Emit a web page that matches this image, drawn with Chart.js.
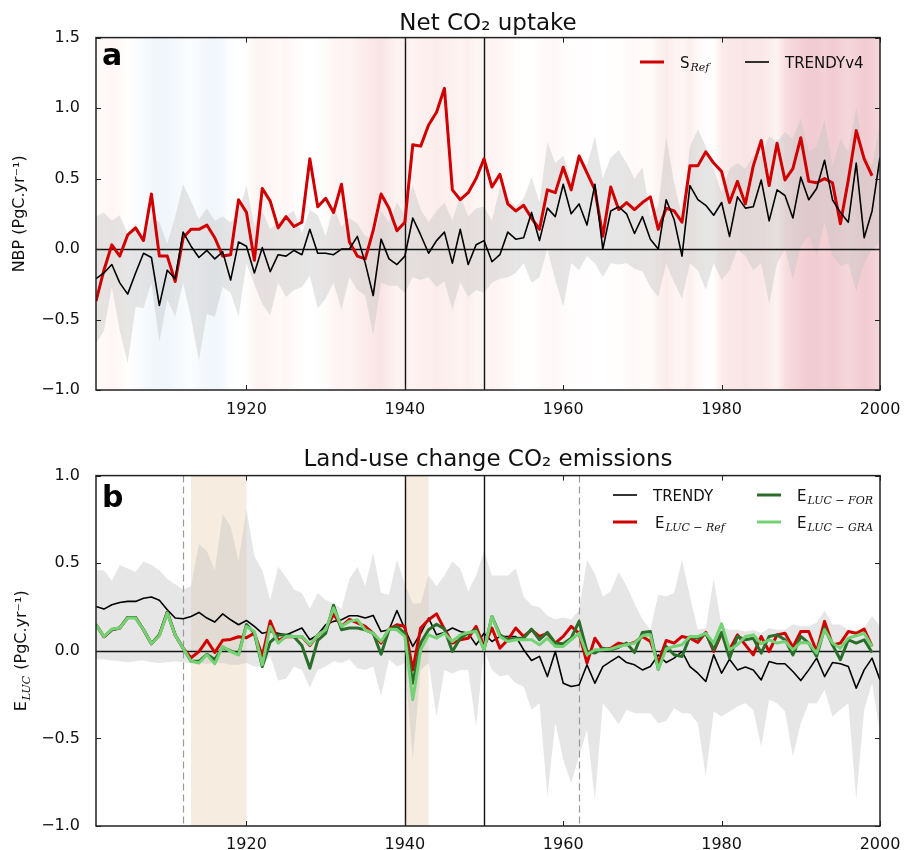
<!DOCTYPE html>
<html>
<head>
<meta charset="utf-8">
<script src="https://cdn.jsdelivr.net/npm/chart.js@4.4.1/dist/chart.umd.min.js"></script>
<style>
  html, body { margin: 0; padding: 0; background: #fff; overflow: hidden; }
  .panel { position: absolute; left: 0; width: 906px; height: 425px; }
</style>
</head>
<body>
<div class="panel" style="top:0"><canvas id="nbpChart"></canvas></div>
<div class="panel" style="top:425px"><canvas id="lucChart"></canvas></div>
<script>
// ---- data ----
const years = [
  1901, 1902, 1903, 1904, 1905, 1906, 1907, 1908, 1909, 1910,
  1911, 1912, 1913, 1914, 1915, 1916, 1917, 1918, 1919, 1920,
  1921, 1922, 1923, 1924, 1925, 1926, 1927, 1928, 1929, 1930,
  1931, 1932, 1933, 1934, 1935, 1936, 1937, 1938, 1939, 1940,
  1941, 1942, 1943, 1944, 1945, 1946, 1947, 1948, 1949, 1950,
  1951, 1952, 1953, 1954, 1955, 1956, 1957, 1958, 1959, 1960,
  1961, 1962, 1963, 1964, 1965, 1966, 1967, 1968, 1969, 1970,
  1971, 1972, 1973, 1974, 1975, 1976, 1977, 1978, 1979, 1980,
  1981, 1982, 1983, 1984, 1985, 1986, 1987, 1988, 1989, 1990,
  1991, 1992, 1993, 1994, 1995, 1996, 1997, 1998, 1999, 2000
];

// panel a: net CO2 uptake (PgC/yr)
const sRef = [
  -0.37, -0.15, 0.03, -0.05, 0.10, 0.15, 0.06, 0.39, -0.05, -0.05,
  -0.23, 0.08, 0.14, 0.14, 0.17, 0.08, -0.05, -0.04, 0.35, 0.26,
  -0.08, 0.43, 0.34, 0.15, 0.23, 0.16, 0.19, 0.64, 0.30, 0.36,
  0.26, 0.46, 0.05, -0.05, -0.07, 0.13, 0.39, 0.29, 0.13, 0.19,
  0.74, 0.73, 0.88, 0.97, 1.14, 0.42, 0.35, 0.40, 0.50, 0.64,
  0.44, 0.53, 0.32, 0.27, 0.31, 0.22, 0.14, 0.42, 0.40, 0.58,
  0.42, 0.66, 0.54, 0.42, 0.09, 0.44, 0.28, 0.33, 0.28, 0.33,
  0.37, 0.14, 0.29, 0.27, 0.19, 0.59, 0.59, 0.69, 0.61, 0.55,
  0.33, 0.48, 0.32, 0.59, 0.77, 0.45, 0.75, 0.49, 0.57, 0.79,
  0.48, 0.47, 0.50, 0.47, 0.18, 0.49, 0.84, 0.64, 0.52, null
];
const trendyNbp = [
  -0.21, -0.17, -0.11, -0.24, -0.32, -0.17, -0.03, -0.06, -0.40, -0.15,
  -0.21, 0.12, 0.02, -0.06, -0.01, -0.07, -0.02, -0.22, 0.05, 0.02,
  -0.17, 0.01, -0.16, -0.04, -0.05, -0.01, -0.04, 0.14, -0.03, -0.03,
  -0.04, 0.00, 0.00, 0.09, -0.10, -0.33, 0.07, -0.07, -0.11, -0.05,
  0.22, 0.10, -0.03, 0.06, 0.12, -0.10, 0.14, -0.11, 0.03, 0.06,
  -0.09, -0.04, 0.12, 0.07, 0.08, 0.26, 0.06, 0.29, 0.23, 0.46,
  0.25, 0.32, 0.17, 0.46, 0.00, 0.27, 0.30, 0.25, 0.11, 0.23,
  0.07, 0.00, 0.35, 0.21, -0.05, 0.45, 0.35, 0.31, 0.24, 0.33,
  0.09, 0.37, 0.29, 0.30, 0.49, 0.20, 0.42, 0.38, 0.22, 0.51,
  0.35, 0.43, 0.63, 0.35, 0.26, 0.19, 0.61, 0.08, 0.27, 0.65
];
const trendyNbpHigh = [
  0.23, 0.26, 0.20, 0.24, 0.11, 0.18, 0.04, 0.23, 0.19, 0.04,
  0.23, 0.46, 0.34, 0.21, 0.29, 0.20, 0.23, 0.19, 0.26, 0.45,
  0.16, 0.27, 0.14, 0.19, 0.24, 0.27, 0.11, 0.28, 0.24, 0.09,
  0.30, 0.16, 0.22, 0.18, 0.09, 0.08, 0.27, 0.19, 0.33, 0.24,
  0.45, 0.28, 0.19, 0.27, 0.33, 0.20, 0.38, 0.23, 0.29, 0.30,
  0.20, 0.44, 0.36, 0.30, 0.36, 0.51, 0.33, 0.76, 0.61, 0.66,
  0.50, 0.64, 0.59, 0.80, 0.50, 0.65, 0.70, 0.61, 0.50, 0.58,
  0.23, 0.30, 0.80, 0.47, 0.23, 0.73, 0.85, 0.73, 0.57, 0.40,
  0.57, 0.61, 0.57, 0.66, 0.66, 0.80, 0.76, 0.83, 0.78, 0.93,
  0.69, 0.73, 0.92, 0.59, 0.78, 0.69, 1.01, 0.67, 0.59, 0.90
];
const trendyNbpLow = [
  -0.67, -0.58, -0.27, -0.58, -0.81, -0.41, -0.42, -0.24, -0.66, -0.36,
  -0.48, -0.24, -0.49, -0.79, -0.46, -0.48, -0.27, -0.31, -0.48, -0.10,
  -0.25, -0.39, -0.47, -0.24, -0.34, -0.29, -0.27, -0.19, -0.42, -0.35,
  -0.24, -0.43, -0.20, -0.29, -0.33, -0.61, -0.24, -0.26, -0.26, -0.31,
  -0.20, -0.22, -0.20, -0.27, -0.23, -0.43, -0.24, -0.34, -0.29, -0.31,
  -0.24, -0.21, -0.20, -0.17, -0.10, -0.24, -0.20, 0.00, -0.22, -0.41,
  -0.10, -0.15, -0.05, -0.10, -0.20, -0.10, -0.11, -0.10, -0.14, -0.16,
  -0.27, -0.34, -0.10, -0.24, -0.35, -0.10, -0.15, -0.29, -0.10, -0.22,
  -0.15, 0.00, -0.05, -0.15, -0.10, -0.39, -0.10, 0.00, -0.22, 0.02,
  0.09, -0.05, 0.19, -0.05, -0.12, -0.10, -0.30, -0.10, 0.00, 0.04
];
// background stripes: anomaly per year (negative = blue, positive = red)
const stripeAnomaly = [
  0.10, 0.15, 0.20, 0.15, 0.00, -0.10, -0.15, -0.25, -0.30, -0.30,
  -0.20, -0.15, -0.10, -0.15, -0.25, -0.30, -0.20, -0.05, 0.00, 0.05,
  0.20, 0.25, 0.20, 0.15, 0.20, 0.10, 0.05, 0.00, -0.05, 0.10,
  0.20, 0.25, 0.20, 0.30, 0.35, 0.40, 0.45, 0.35, 0.25, 0.30,
  0.25, 0.30, 0.30, 0.35, 0.30, 0.30, 0.25, 0.30, 0.20, 0.20,
  0.25, 0.20, 0.15, 0.05, 0.00, 0.00, 0.10, 0.15, 0.15, 0.10,
  0.05, 0.05, 0.05, 0.00, 0.00, 0.05, 0.05, 0.10, 0.15, 0.10,
  0.10, 0.25, 0.35, 0.25, 0.20, 0.30, 0.15, 0.05, 0.05, 0.35,
  0.40, 0.40, 0.45, 0.40, 0.40, 0.35, 0.25, 0.50, 0.60, 0.65,
  0.70, 0.70, 0.65, 0.70, 0.65, 0.60, 0.65, 0.70, 0.65, 0.60
];

// panel b: land-use change emissions (PgC/yr)
const trendyLuc = [
  0.253, 0.238, 0.263, 0.276, 0.282, 0.282, 0.300, 0.307, 0.288, 0.234,
  0.187, 0.183, 0.196, 0.219, 0.187, 0.164, 0.211, 0.177, 0.149, 0.173,
  0.139, 0.100, 0.110, 0.100, 0.090, 0.110, 0.130, 0.063, 0.091, 0.149,
  0.168, 0.177, 0.200, 0.200, 0.187, 0.202, 0.110, 0.120, 0.230, 0.124,
  0.025, 0.100, 0.187, 0.091, 0.105, 0.130, 0.110, 0.100, 0.034, 0.100,
  0.053, 0.082, 0.082, 0.082, 0.006, -0.055, -0.032, -0.147, -0.004, -0.185,
  -0.204, -0.195, -0.080, -0.185, -0.090, -0.060, -0.032, -0.067, -0.080, -0.109,
  -0.090, -0.023, -0.067, -0.042, -0.004, -0.090, -0.128, -0.175, -0.023, -0.128,
  -0.048, -0.109, -0.093, -0.109, -0.166, -0.061, -0.074, -0.074, -0.118, -0.170,
  -0.109, -0.042, -0.147, -0.067, -0.074, -0.090, -0.213, -0.109, -0.042, -0.166
];
const eLucRef = [
  0.150, 0.080, 0.120, 0.130, 0.190, 0.190, 0.120, 0.040, 0.090, 0.220,
  0.090, 0.015, -0.040, -0.005, 0.060, -0.010, 0.060, 0.065, 0.080, 0.075,
  0.100, -0.030, 0.170, 0.060, 0.080, 0.080, 0.080, 0.030, 0.090, 0.120,
  0.210, 0.140, 0.180, 0.160, 0.139, 0.100, 0.044, 0.124, 0.149, 0.139,
  -0.109, 0.130, 0.177, 0.211, 0.124, 0.044, 0.063, 0.072, 0.139, 0.025,
  0.130, 0.015, 0.063, 0.130, 0.082, 0.120, 0.082, 0.100, 0.044, 0.082,
  0.139, 0.100, -0.070, 0.072, 0.006, 0.015, 0.044, 0.034, 0.048, 0.082,
  0.053, -0.067, 0.059, 0.044, 0.082, 0.072, 0.048, 0.105, -0.004, 0.100,
  0.006, 0.091, 0.034, -0.023, 0.082, -0.004, 0.091, 0.100, 0.021, 0.110,
  0.110, -0.004, 0.168, 0.034, 0.044, 0.110, 0.100, 0.124, 0.025, null
];
const eLucFor = [
  0.150, 0.080, 0.120, 0.130, 0.190, 0.190, 0.120, 0.040, 0.090, 0.220,
  0.090, 0.015, -0.060, -0.060, -0.020, -0.050, 0.020, 0.000, -0.020, 0.150,
  0.100, -0.090, 0.050, 0.090, 0.090, 0.080, 0.030, -0.100, 0.060, 0.100,
  0.260, 0.120, 0.130, 0.130, 0.120, 0.100, -0.020, 0.120, 0.139, 0.100,
  -0.185, 0.044, 0.120, 0.152, 0.124, -0.004, 0.072, 0.100, 0.120, 0.006,
  0.196, 0.091, 0.063, 0.072, 0.072, 0.124, 0.063, 0.105, 0.044, 0.040,
  0.072, 0.168, -0.004, -0.013, 0.015, 0.006, 0.020, 0.044, -0.010, 0.105,
  0.110, -0.105, 0.025, -0.023, -0.032, 0.082, 0.072, 0.100, 0.006, 0.105,
  -0.042, 0.082, 0.063, 0.072, -0.013, 0.082, 0.091, 0.063, -0.023, 0.082,
  0.044, -0.032, 0.130, 0.034, -0.051, 0.063, 0.044, 0.063, -0.010, null
];
const eLucGra = [
  0.149, 0.082, 0.124, 0.130, 0.187, 0.187, 0.120, 0.040, 0.086, 0.215,
  0.090, 0.015, -0.060, -0.070, -0.023, -0.074, 0.025, -0.004, -0.023, 0.139,
  0.110, -0.080, 0.139, 0.044, 0.082, 0.082, 0.082, 0.034, 0.090, 0.120,
  0.244, 0.139, 0.168, 0.177, 0.120, 0.100, 0.053, 0.124, 0.120, 0.082,
  -0.280, 0.006, 0.091, 0.072, 0.100, 0.053, 0.091, 0.105, 0.110, 0.006,
  0.196, 0.082, 0.053, 0.063, 0.063, 0.063, 0.034, 0.072, 0.025, 0.025,
  0.063, 0.100, -0.023, 0.006, 0.006, 0.010, 0.025, 0.034, 0.044, 0.086,
  0.091, -0.105, 0.010, 0.025, 0.034, 0.082, 0.082, 0.100, 0.044, 0.154,
  0.006, 0.034, 0.082, 0.091, 0.040, 0.063, 0.044, 0.053, 0.006, 0.048,
  0.044, -0.013, 0.120, 0.044, 0.015, 0.072, 0.086, 0.100, 0.025, null
];
const trendyLucHigh = [
  0.46, 0.46, 0.40, 0.49, 0.47, 0.45, 0.51, 0.49, 0.46, 0.41,
  0.38, 0.35, 0.37, 0.61, 0.57, 0.46, 0.78, 0.71, 0.51, 0.81,
  0.54, 0.46, 0.29, 0.48, 0.42, 0.35, 0.33, 0.24, 0.33, 0.29,
  0.27, 0.24, 0.41, 0.48, 0.37, 0.56, 0.33, 0.32, 0.52, 0.38,
  0.27, 0.27, 0.43, 0.37, 0.43, 0.51, 0.47, 0.34, 0.43, 0.57,
  0.43, 0.43, 0.43, 0.47, 0.31, 0.26, 0.25, 0.20, 0.18, 0.19,
  0.18, 0.23, 0.52, 0.44, 0.31, 0.34, 0.45, 0.37, 0.27, 0.18,
  0.12, 0.32, 0.31, 0.33, 0.52, 0.31, 0.12, 0.13, 0.41, 0.14,
  0.12, 0.12, 0.11, 0.12, 0.10, 0.13, 0.12, 0.12, 0.15, 0.14,
  0.14, 0.16, 0.23, 0.15, 0.15, 0.12, 0.10, 0.13, 0.20, 0.14
];
const trendyLucLow = [
  -0.05, -0.05, -0.055, -0.06, -0.065, -0.06, -0.055, -0.065, -0.07, -0.065,
  -0.06, -0.065, -0.07, -0.07, -0.075, -0.07, -0.07, -0.08, -0.08, -0.07,
  -0.09, -0.09, -0.03, -0.17, -0.16, -0.09, -0.11, -0.21, -0.11, -0.09,
  -0.06, -0.07, -0.05, -0.10, -0.11, -0.09, -0.26, -0.05, -0.09, -0.07,
  -0.62, -0.11, -0.07, -0.375, -0.11, -0.13, -0.11, -0.11, -0.43, 0.006,
  -0.11, -0.147, -0.137, -0.185, -0.204, -0.337, -0.30, -0.83, -0.41, -0.62,
  -0.756, -0.60, -0.45, -0.85, -0.30, -0.356, -0.42, -0.337, -0.356, -0.356,
  -0.356, -0.413, -0.40, -0.328, -0.356, -0.356, -0.413, -0.718, -0.347, -0.375,
  -0.347, -0.318, -0.299, -0.337, -0.547, -0.28, -0.299, -0.347, -0.604, -0.413,
  -0.299, -0.299, -0.223, -0.375, -0.337, -0.299, -0.85, -0.337, -0.185, -0.47
];

// axes and markers
const xTicks = [1920, 1940, 1960, 1980, 2000];
const nbpTicks = [-1.0, -0.5, 0.0, 0.5, 1.0, 1.5];
const lucTicks = [-1.0, -0.5, 0.0, 0.5, 1.0];
const eventYears = [1940, 1950];
const lucDashedYears = [1912, 1962];
const lucPeriods = [[1913, 1920], [1940, 1943]];

// ---- drawing helpers ----
const FONT = '"DejaVu Sans", sans-serif';
const SUBFONT = '"DejaVu Serif", serif';

function fmtTick(v) {
  return v < 0 ? "\u2212" + Math.abs(v).toFixed(1) : v.toFixed(1);
}

function stripeColour(v) {
  if (v >= 0) {
    const t = Math.min(1, v);
    const r = Math.round(240 - 40 * t), g = Math.round(130 - 50 * t), b = Math.round(100 + 20 * t);
    return `rgba(${r},${g},${b},${(0.5 * Math.pow(t, 1.25)).toFixed(3)})`;
  }
  const t = Math.min(1, -v);
  return `rgba(110,165,215,${(0.33 * t).toFixed(3)})`;
}

// text + italic subscript, returns width drawn
function drawSubText(ctx, x, y, main, sub, size) {
  ctx.font = `${size}px ${FONT}`;
  ctx.fillText(main, x, y);
  let w = ctx.measureText(main).width;
  if (sub) {
    ctx.font = `italic 11px ${SUBFONT}`;
    ctx.fillText(sub, x + w + 1, y + 3.5);
    w += 1 + ctx.measureText(sub).width;
  }
  return w;
}

const panelPlugin = {
  id: "panel",
  beforeDatasetsDraw(chart, args, o) {
    const { ctx, chartArea: a, scales: { x } } = chart;
    ctx.save();
    if (o.stripes) {
      const grad = ctx.createLinearGradient(a.left, 0, a.right, 0);
      years.forEach((yr, i) => {
        const t = (x.getPixelForValue(yr) - a.left) / (a.right - a.left);
        grad.addColorStop(Math.min(1, Math.max(0, t)), stripeColour(o.stripes[i]));
      });
      ctx.fillStyle = grad;
      ctx.fillRect(a.left, a.top, a.right - a.left, a.bottom - a.top);
    }
    (o.periods || []).forEach(p => {
      const x0 = x.getPixelForValue(p[0]), x1 = x.getPixelForValue(p[1]);
      ctx.fillStyle = "rgba(214,168,110,0.22)";
      ctx.fillRect(x0, a.top, x1 - x0, a.bottom - a.top);
    });
    ctx.restore();
  },
  // reference lines sit on top of the spread band, under the series
  afterDatasetDraw(chart, args, o) {
    if (args.index !== chart.data.datasets.length - 1) return;
    const { ctx, chartArea: a, scales: { x, y } } = chart;
    ctx.save();
    ctx.strokeStyle = "#111";
    ctx.lineWidth = 1.4;
    const y0 = Math.round(y.getPixelForValue(0)) + 0.5;
    ctx.beginPath();
    ctx.moveTo(a.left, y0);
    ctx.lineTo(a.right, y0);
    ctx.stroke();
    eventYears.forEach(yr => {
      const px = Math.round(x.getPixelForValue(yr)) + 0.5;
      ctx.beginPath();
      ctx.moveTo(px, a.top);
      ctx.lineTo(px, a.bottom);
      ctx.stroke();
    });
    (o.dashed || []).forEach(yr => {
      const px = Math.round(x.getPixelForValue(yr)) + 0.5;
      ctx.strokeStyle = "#9a9a9a";
      ctx.lineWidth = 1.2;
      ctx.setLineDash([7, 4]);
      ctx.beginPath();
      ctx.moveTo(px, a.top);
      ctx.lineTo(px, a.bottom);
      ctx.stroke();
    });
    ctx.restore();
  },
  afterDraw(chart, args, o) {
    const { ctx, chartArea: a, scales: { x, y } } = chart;
    ctx.save();
    // frame and inward ticks
    ctx.strokeStyle = "#222";
    ctx.lineWidth = 1.5;
    ctx.strokeRect(a.left, a.top, a.right - a.left, a.bottom - a.top);
    ctx.lineWidth = 1;
    ctx.beginPath();
    x.ticks.forEach(t => {
      const px = Math.round(x.getPixelForValue(t.value)) + 0.5;
      ctx.moveTo(px, a.bottom); ctx.lineTo(px, a.bottom - 5);
      ctx.moveTo(px, a.top); ctx.lineTo(px, a.top + 5);
    });
    y.ticks.forEach(t => {
      const py = Math.round(y.getPixelForValue(t.value)) + 0.5;
      ctx.moveTo(a.left, py); ctx.lineTo(a.left + 5, py);
      ctx.moveTo(a.right, py); ctx.lineTo(a.right - 5, py);
    });
    ctx.stroke();

    // panel letter
    ctx.fillStyle = "#000";
    ctx.textBaseline = "alphabetic";
    ctx.textAlign = "left";
    ctx.font = `bold 30px ${FONT}`;
    ctx.fillText(o.letter, a.left + 6, a.top + o.letterDrop);

    // legend
    o.legend.forEach(item => {
      ctx.strokeStyle = item.color;
      ctx.lineWidth = item.width;
      ctx.beginPath();
      ctx.moveTo(item.x, item.y);
      ctx.lineTo(item.x + 24, item.y);
      ctx.stroke();
      ctx.fillStyle = "#111";
      drawSubText(ctx, item.x + item.gap, item.y + 5.5, item.text, item.sub, 15);
    });

    // rotated y title with subscript (panel b)
    if (o.yTitle) {
      const cy = (a.top + a.bottom) / 2;
      ctx.translate(20, cy);
      ctx.rotate(-Math.PI / 2);
      ctx.fillStyle = "#111";
      ctx.font = `16px ${FONT}`;
      const w1 = ctx.measureText(o.yTitle.main).width;
      ctx.font = `italic 11px ${SUBFONT}`;
      const w2 = ctx.measureText(o.yTitle.sub).width;
      ctx.font = `16px ${FONT}`;
      const w3 = ctx.measureText(o.yTitle.rest).width;
      const sx = -(w1 + w2 + w3 + 2) / 2;
      ctx.fillText(o.yTitle.main, sx, 6);
      ctx.font = `italic 11px ${SUBFONT}`;
      ctx.fillText(o.yTitle.sub, sx + w1 + 1, 9.5);
      ctx.font = `16px ${FONT}`;
      ctx.fillText(o.yTitle.rest, sx + w1 + w2 + 2, 6);
    }
    ctx.restore();
  }
};

function xAxis(height, pad) {
  return {
    type: "linear",
    min: 1901,
    max: 2000,
    afterBuildTicks: s => { s.ticks = xTicks.map(v => ({ value: v })); },
    afterFit: s => { s.height = height; },
    grid: { display: false },
    border: { display: false },
    ticks: { color: "#111", padding: pad, maxRotation: 0, autoSkip: false, font: { family: FONT, size: 16 }, callback: v => String(v) }
  };
}

function yAxis(min, max, tickList, title) {
  return {
    min, max,
    afterBuildTicks: s => { s.ticks = tickList.map(v => ({ value: v })); },
    afterFit: s => { s.width = 96; },
    grid: { display: false },
    border: { display: false },
    ticks: { color: "#111", padding: 8, autoSkip: false, font: { family: FONT, size: 16 }, callback: v => fmtTick(v) },
    title: title
      ? { display: true, text: title, color: "#111", font: { family: FONT, size: 16 }, padding: { top: 10, bottom: 0 } }
      : { display: false }
  };
}

function line(data, color, width) {
  return { data, borderColor: color, borderWidth: width, pointRadius: 0, fill: false, tension: 0, borderJoinStyle: "round", spanGaps: false };
}

function band(data, fillTo) {
  return { data, borderWidth: 0, pointRadius: 0, tension: 0, backgroundColor: "rgba(195,195,195,0.42)", fill: fillTo };
}

const common = {
  responsive: true,
  maintainAspectRatio: false,
  animation: false,
  events: []
};

function titleOpts(text, top, bottom) {
  return { display: true, fullSize: false, text, color: "#111", font: { family: FONT, size: 23, weight: "normal" }, padding: { top, bottom } };
}

new Chart(document.getElementById("nbpChart"), {
  type: "line",
  data: {
    labels: years,
    datasets: [
      line(trendyNbp, "#000000", 1.6),
      line(sRef, "#d00000", 3),
      band(trendyNbpLow, false),
      band(trendyNbpHigh, "-1")
    ]
  },
  options: {
    ...common,
    layout: { padding: { left: 0, right: 26, top: 0, bottom: 0 } },
    plugins: {
      legend: { display: false },
      tooltip: { enabled: false },
      title: titleOpts("Net CO\u2082 uptake", 10, 0),
      panel: {
        letter: "a",
        letterDrop: 27,
        stripes: stripeAnomaly,
        legend: [
          { text: "S", sub: "Ref", color: "#d00000", width: 3, x: 640, y: 62, gap: 40 },
          { text: "TRENDYv4", sub: "", color: "#000000", width: 1.6, x: 745, y: 62, gap: 40 }
        ]
      }
    },
    scales: {
      x: xAxis(35, 2),
      y: yAxis(-1, 1.5, nbpTicks, "NBP (PgC.yr\u207b\u00b9)")
    }
  },
  plugins: [panelPlugin]
});

new Chart(document.getElementById("lucChart"), {
  type: "line",
  data: {
    labels: years,
    datasets: [
      line(eLucGra, "#74d274", 3),
      line(eLucFor, "#2a6e2a", 3),
      line(eLucRef, "#d00000", 3),
      line(trendyLuc, "#000000", 1.6),
      band(trendyLucLow, false),
      band(trendyLucHigh, "-1")
    ]
  },
  options: {
    ...common,
    layout: { padding: { left: 0, right: 26, top: 0, bottom: 0 } },
    plugins: {
      legend: { display: false },
      tooltip: { enabled: false },
      title: titleOpts("Land-use change CO\u2082 emissions", 21, 2),
      panel: {
        letter: "b",
        letterDrop: 31,
        periods: lucPeriods,
        dashed: lucDashedYears,
        yTitle: { main: "E", sub: "LUC", rest: " (PgC.yr\u207b\u00b9)" },
        legend: [
          { text: "TRENDY", sub: "", color: "#000000", width: 1.6, x: 613, y: 70, gap: 40 },
          { text: "E", sub: "LUC \u2212 Ref", color: "#d00000", width: 3, x: 613, y: 97, gap: 42 },
          { text: "E", sub: "LUC \u2212 FOR", color: "#2a6e2a", width: 3, x: 757, y: 70, gap: 40 },
          { text: "E", sub: "LUC \u2212 GRA", color: "#74d274", width: 3, x: 757, y: 97, gap: 40 }
        ]
      }
    },
    scales: {
      x: xAxis(24, 1),
      y: yAxis(-1, 1, lucTicks, null)
    }
  },
  plugins: [panelPlugin]
});
</script>
</body>
</html>
